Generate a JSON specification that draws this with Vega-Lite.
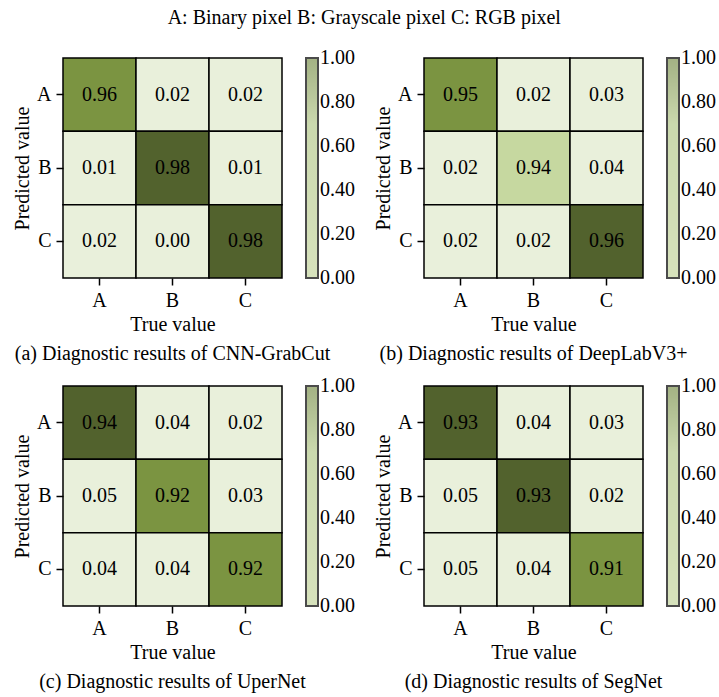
{
  "$schema": "https://vega.github.io/schema/vega-lite/v6.json",
  "background": "white",
  "padding": {"left": 12, "top": 8, "right": 5, "bottom": 2},
  "title": {"text": "A: Binary pixel  B: Grayscale pixel  C: RGB pixel", "orient": "top", "font": "Liberation Serif", "fontSize": 20, "fontWeight": "normal", "color": "black", "anchor": "middle", "offset": 29},
  "datasets": {
    "a": [
      {"actual": "A", "predicted": "A", "value": 0.96}, {"actual": "B", "predicted": "A", "value": 0.02}, {"actual": "C", "predicted": "A", "value": 0.02},
      {"actual": "A", "predicted": "B", "value": 0.01}, {"actual": "B", "predicted": "B", "value": 0.98}, {"actual": "C", "predicted": "B", "value": 0.01},
      {"actual": "A", "predicted": "C", "value": 0.02}, {"actual": "B", "predicted": "C", "value": 0.00}, {"actual": "C", "predicted": "C", "value": 0.98}
    ],
    "b": [
      {"actual": "A", "predicted": "A", "value": 0.95}, {"actual": "B", "predicted": "A", "value": 0.02}, {"actual": "C", "predicted": "A", "value": 0.03},
      {"actual": "A", "predicted": "B", "value": 0.02}, {"actual": "B", "predicted": "B", "value": 0.94}, {"actual": "C", "predicted": "B", "value": 0.04},
      {"actual": "A", "predicted": "C", "value": 0.02}, {"actual": "B", "predicted": "C", "value": 0.02}, {"actual": "C", "predicted": "C", "value": 0.96}
    ],
    "c": [
      {"actual": "A", "predicted": "A", "value": 0.94}, {"actual": "B", "predicted": "A", "value": 0.04}, {"actual": "C", "predicted": "A", "value": 0.02},
      {"actual": "A", "predicted": "B", "value": 0.05}, {"actual": "B", "predicted": "B", "value": 0.92}, {"actual": "C", "predicted": "B", "value": 0.03},
      {"actual": "A", "predicted": "C", "value": 0.04}, {"actual": "B", "predicted": "C", "value": 0.04}, {"actual": "C", "predicted": "C", "value": 0.92}
    ],
    "d": [
      {"actual": "A", "predicted": "A", "value": 0.93}, {"actual": "B", "predicted": "A", "value": 0.04}, {"actual": "C", "predicted": "A", "value": 0.03},
      {"actual": "A", "predicted": "B", "value": 0.05}, {"actual": "B", "predicted": "B", "value": 0.93}, {"actual": "C", "predicted": "B", "value": 0.02},
      {"actual": "A", "predicted": "C", "value": 0.05}, {"actual": "B", "predicted": "C", "value": 0.04}, {"actual": "C", "predicted": "C", "value": 0.91}
    ]
  },
  "vconcat": [
    {
      "hconcat": [
        {
          "width": 219, "height": 220,
          "data": {"name": "a"},
          "title": {"text": "(a) Diagnostic results of CNN-GrabCut"},
          "encoding": {
            "x": {"field": "actual", "type": "nominal", "title": "True value", "sort": ["A", "B", "C"]},
            "y": {"field": "predicted", "type": "nominal", "title": "Predicted value", "sort": ["A", "B", "C"]}
          },
          "layer": [
            {"mark": {"type": "rect", "stroke": "black", "strokeWidth": 1.5}, "encoding": {"color": {"field": "value", "type": "quantitative", "scale": {"domain": [0, 0.5, 0.96, 0.98], "range": ["#e9f0db", "#e9f0db", "#7b9441", "#52622d"]}, "legend": null}}},
            {"mark": {"type": "text", "font": "Liberation Serif", "fontSize": 20, "color": "black"}, "encoding": {"text": {"field": "value", "type": "quantitative", "format": ".2f"}}},
            {"mark": {"type": "point", "size": 0, "filled": true}, "encoding": {"color": {"field": "value", "type": "quantitative", "scale": {"domain": [-0.002, 0.7, 1.002], "range": ["#c6d6a0", "#b5c98c", "#7d9250"]}, "legend": {"title": null, "values": [0, 0.2, 0.4, 0.6, 0.8, 1], "format": ".2f"}}}}
          ],
          "resolve": {"scale": {"color": "independent"}, "legend": {"color": "independent"}}
        },
        {
          "width": 219, "height": 220,
          "data": {"name": "b"},
          "title": {"text": "(b) Diagnostic results of DeepLabV3+"},
          "encoding": {
            "x": {"field": "actual", "type": "nominal", "title": "True value", "sort": ["A", "B", "C"]},
            "y": {"field": "predicted", "type": "nominal", "title": "Predicted value", "sort": ["A", "B", "C"]}
          },
          "layer": [
            {"mark": {"type": "rect", "stroke": "black", "strokeWidth": 1.5}, "encoding": {"color": {"field": "value", "type": "quantitative", "scale": {"domain": [0, 0.5, 0.94, 0.95, 0.96], "range": ["#e9f0db", "#e9f0db", "#c6d8a0", "#7b9441", "#52622d"]}, "legend": null}}},
            {"mark": {"type": "text", "font": "Liberation Serif", "fontSize": 20, "color": "black"}, "encoding": {"text": {"field": "value", "type": "quantitative", "format": ".2f"}}},
            {"mark": {"type": "point", "size": 0, "filled": true}, "encoding": {"color": {"field": "value", "type": "quantitative", "scale": {"domain": [-0.002, 0.7, 1.002], "range": ["#c6d6a0", "#b5c98c", "#7d9250"]}, "legend": {"title": null, "values": [0, 0.2, 0.4, 0.6, 0.8, 1], "format": ".2f"}}}}
          ],
          "resolve": {"scale": {"color": "independent"}, "legend": {"color": "independent"}}
        }
      ],
      "resolve": {"scale": {"color": "independent"}, "legend": {"color": "independent"}}
    },
    {
      "hconcat": [
        {
          "width": 219, "height": 220,
          "data": {"name": "c"},
          "title": {"text": "(c) Diagnostic results of UperNet"},
          "encoding": {
            "x": {"field": "actual", "type": "nominal", "title": "True value", "sort": ["A", "B", "C"]},
            "y": {"field": "predicted", "type": "nominal", "title": "Predicted value", "sort": ["A", "B", "C"]}
          },
          "layer": [
            {"mark": {"type": "rect", "stroke": "black", "strokeWidth": 1.5}, "encoding": {"color": {"field": "value", "type": "quantitative", "scale": {"domain": [0, 0.5, 0.92, 0.94], "range": ["#e9f0db", "#e9f0db", "#7b9441", "#52622d"]}, "legend": null}}},
            {"mark": {"type": "text", "font": "Liberation Serif", "fontSize": 20, "color": "black"}, "encoding": {"text": {"field": "value", "type": "quantitative", "format": ".2f"}}},
            {"mark": {"type": "point", "size": 0, "filled": true}, "encoding": {"color": {"field": "value", "type": "quantitative", "scale": {"domain": [-0.002, 0.7, 1.002], "range": ["#c6d6a0", "#b5c98c", "#7d9250"]}, "legend": {"title": null, "values": [0, 0.2, 0.4, 0.6, 0.8, 1], "format": ".2f"}}}}
          ],
          "resolve": {"scale": {"color": "independent"}, "legend": {"color": "independent"}}
        },
        {
          "width": 219, "height": 220,
          "data": {"name": "d"},
          "title": {"text": "(d) Diagnostic results of SegNet"},
          "encoding": {
            "x": {"field": "actual", "type": "nominal", "title": "True value", "sort": ["A", "B", "C"]},
            "y": {"field": "predicted", "type": "nominal", "title": "Predicted value", "sort": ["A", "B", "C"]}
          },
          "layer": [
            {"mark": {"type": "rect", "stroke": "black", "strokeWidth": 1.5}, "encoding": {"color": {"field": "value", "type": "quantitative", "scale": {"domain": [0, 0.5, 0.91, 0.93], "range": ["#e9f0db", "#e9f0db", "#7b9441", "#52622d"]}, "legend": null}}},
            {"mark": {"type": "text", "font": "Liberation Serif", "fontSize": 20, "color": "black"}, "encoding": {"text": {"field": "value", "type": "quantitative", "format": ".2f"}}},
            {"mark": {"type": "point", "size": 0, "filled": true}, "encoding": {"color": {"field": "value", "type": "quantitative", "scale": {"domain": [-0.002, 0.7, 1.002], "range": ["#c6d6a0", "#b5c98c", "#7d9250"]}, "legend": {"title": null, "values": [0, 0.2, 0.4, 0.6, 0.8, 1], "format": ".2f"}}}}
          ],
          "resolve": {"scale": {"color": "independent"}, "legend": {"color": "independent"}}
        }
      ],
      "resolve": {"scale": {"color": "independent"}, "legend": {"color": "independent"}}
    }
  ],
  "resolve": {"scale": {"color": "independent"}, "legend": {"color": "independent"}},
  "spacing": 21,
  "config": {
    "view": {"stroke": null},
    "concat": {"spacing": 18},
    "title": {"font": "Liberation Serif", "fontSize": 20, "fontWeight": "normal", "color": "black", "orient": "bottom", "anchor": "middle", "offset": 10},
    "axis": {"labelFont": "Liberation Serif", "labelFontSize": 20, "labelColor": "black", "titleFont": "Liberation Serif", "titleFontSize": 20, "titleFontWeight": "normal", "titleColor": "black", "tickColor": "black", "tickSize": 7, "tickWidth": 1.5, "domain": false, "grid": false, "labelAngle": 0, "labelPadding": 5, "titlePadding": 4},
    "legend": {"orient": "right", "direction": "vertical", "gradientLength": 220, "gradientThickness": 12, "gradientStrokeColor": "black", "gradientStrokeWidth": 2, "labelFont": "Liberation Serif", "labelFontSize": 20, "labelColor": "black", "labelOffset": 6, "labelOverlap": false, "offset": 24, "padding": 0}
  }
}
